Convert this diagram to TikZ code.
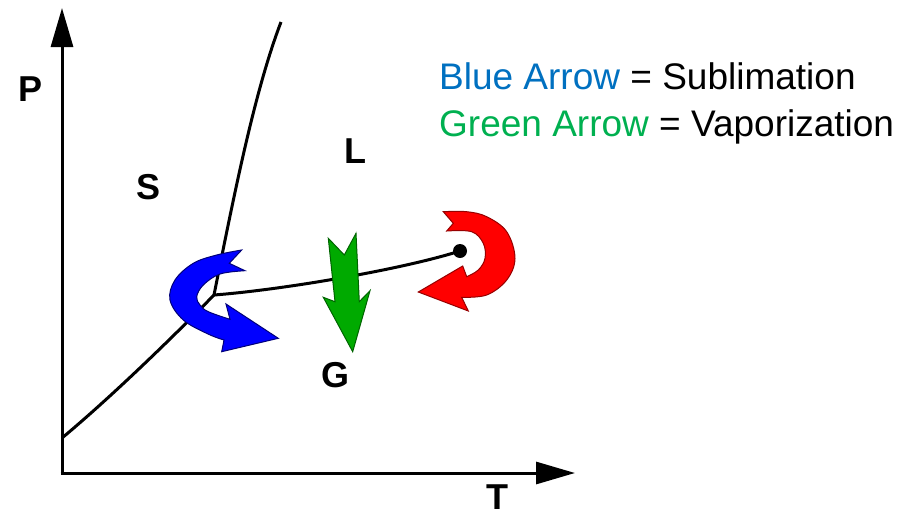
\documentclass[tikz,border=0pt]{standalone}
\usepackage{fontspec}
\setmainfont{Liberation Sans}
\usetikzlibrary{arrows.meta}
\definecolor{legblue}{RGB}{0,112,192}
\definecolor{leggreen}{RGB}{0,176,80}
\definecolor{arrblue}{RGB}{0,0,255}
\definecolor{arrblueline}{RGB}{0,0,120}
\definecolor{arrred}{RGB}{255,0,0}
\definecolor{arrredline}{RGB}{150,0,0}
\definecolor{arrgreen}{RGB}{0,170,0}
\definecolor{arrgreenline}{RGB}{0,100,0}
\begin{document}
\begin{tikzpicture}[x=1pt,y=-1pt,
  axis/.style={line width=3pt,-{Triangle[length=39pt,width=22pt]}},
  phaseline/.style={line width=3pt},
  axlabel/.style={font=\fontsize{36}{40}\selectfont\bfseries,inner sep=0pt},
  legend/.style={font=\fontsize{37}{42}\selectfont,anchor=base west,inner sep=0pt},
  fatarrow/.style={line width=1pt,line join=miter}]
\useasboundingbox (0,0) rectangle (898,520);
% axes
\coordinate (O) at (62,473);
\coordinate (Ptop) at (62,8);
\coordinate (Tend) at (575,473);
\draw[axis] (62,474.5) -- (Ptop);
\draw[axis] (60.5,473) -- (Tend);
% phase boundaries
\coordinate (TP) at (214,295);
\coordinate (CP) at (460,251);
\coordinate (SLend) at (281,22);
\coordinate (SGstart) at (62,438);
\draw[phaseline] (TP) .. controls (235,190) and (255,90) .. (SLend);
\draw[phaseline] (SGstart) .. controls (110,398) and (170,340) .. (TP);
\draw[phaseline] (TP) .. controls (280,290) and (400,270) .. (CP);
\fill (CP) circle (7);
% labels
\node[axlabel] (P) at (31,89) {P};
\node[axlabel] (T) at (497,497) {T};
\node[axlabel] (S) at (149,187) {S};
\node[axlabel] (L) at (355,151) {L};
\node[axlabel] (G) at (335,375) {G};
% legend
\node[legend] (leg1) at (439,89) {\textcolor{legblue}{Blue Arrow} = Sublimation};
\node[legend] (leg2) at (439,136) {\textcolor{leggreen}{Green Arrow} = Vaporization};
% blue arrow
\filldraw[fatarrow,fill=arrblue,draw=arrblueline]
  (241.7,250) -- (229.3,263.3) -- (245,270.7)
  -- plot[smooth,tension=0.6] coordinates {(245,270.7) (220,274) (203.3,285) (196.7,296.7) (200,305) (208.3,311.7) (230,319.3)}
  -- (226,304) -- (278.3,338.3) -- (221.7,351.7) -- (224,340)
  -- plot[smooth,tension=0.6] coordinates {(224,340) (208,334) (183.3,320) (170,300) (175,280) (193.3,263.3) (216.7,255) (241.7,250)}
  -- cycle;
% green arrow
\filldraw[fatarrow,fill=arrgreen,draw=arrgreenline]
  (328.3,238.3) -- (344.3,255) -- (356,233.3) -- (359.3,301.7) -- (370,290.7)
  -- (352.7,351.7) -- (323.3,297.3) -- (335,301.7) -- cycle;
% red arrow
\filldraw[fatarrow,fill=arrred,draw=arrredline]
  (443.3,211.7) -- (453.3,223.3) -- (446.7,231)
  -- plot[smooth,tension=0.6] coordinates {(446.7,231) (471.7,231.7) (483.3,243.3) (485,258.3) (478.3,270) (466.7,276.7)}
  -- (462.7,266) -- (418.3,292) -- (468.3,311) -- (461.7,297.3)
  -- plot[smooth,tension=0.6] coordinates {(461.7,297.3) (486.7,295) (506.7,280) (515,258.3) (506.7,231.7) (486.7,216.7) (466.7,211.7) (443.3,211.7)}
  -- cycle;
\end{tikzpicture}
\end{document}
